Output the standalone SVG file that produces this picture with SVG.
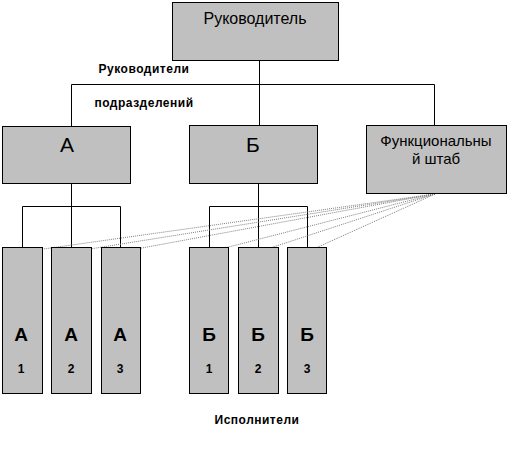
<svg xmlns="http://www.w3.org/2000/svg" width="510" height="451" viewBox="0 0 510 451">
<style>
.box{fill:#c0c0c0;stroke:#000;stroke-width:1}
.ln{fill:none;stroke:#000;stroke-width:1}
.dot{fill:none;stroke:#808080;stroke-width:1;stroke-dasharray:1,1}
.t{font-family:"Liberation Sans",Arial,sans-serif;fill:#000;text-anchor:middle}
.lbl{font-family:"Liberation Sans",Arial,sans-serif;font-weight:bold;font-size:12px;fill:#000;text-anchor:middle;letter-spacing:0.5px}
.big{font-size:21px}
.sub{font-size:19px;font-weight:bold}
.num{font-size:12px;font-weight:bold}
</style>
<rect width="510" height="451" fill="#fff"/>
<g id="connectors">
<path class="ln" d="M259.5,60 V125 M71.5,84.5 H434.5 M71.5,84.5 V126 M434.5,84.5 V125"/>
<path class="ln" d="M71.5,183 V252 M22.5,206.5 H120.5 M22.5,206.5 V252 M120.5,206.5 V252"/>
<path class="ln" d="M258.5,183 V252 M209.5,206.5 H307.5 M209.5,206.5 V252 M307.5,206.5 V252"/>
<path class="dot" d="M435,194 L22,252 M435,194 L71,252 M435,194 L120,252 M435,194 L209,252 M435,194 L258,252 M435,194 L307,252"/>
</g>
<g id="head"><rect class="box" x="172.5" y="2.5" width="166" height="58"/><text class="t" x="255" y="24" font-size="16">Руководитель</text></g>
<g id="A"><rect class="box" x="2.5" y="126.5" width="128" height="57"/><text class="t big" x="67" y="152">А</text></g>
<g id="B"><rect class="box" x="189.5" y="125.5" width="128" height="58"/><text class="t big" x="253" y="152">Б</text></g>
<g id="F"><rect class="box" x="366.5" y="125.5" width="140" height="68"/><text class="t" x="436" y="146" font-size="15">Функциональны</text><text class="t" x="436" y="164" font-size="15">й штаб</text></g>
<g id="A1"><rect class="box" x="2.5" y="247.5" width="40" height="146"/><text class="t sub" x="21" y="341">А</text><text class="t num" x="21" y="373">1</text></g>
<g id="A2"><rect class="box" x="51.5" y="247.5" width="40" height="146"/><text class="t sub" x="71" y="341">А</text><text class="t num" x="71" y="373">2</text></g>
<g id="A3"><rect class="box" x="101.5" y="247.5" width="39" height="146"/><text class="t sub" x="120" y="341">А</text><text class="t num" x="120" y="373">3</text></g>
<g id="B1"><rect class="box" x="189.5" y="247.5" width="39" height="146"/><text class="t sub" x="209" y="341">Б</text><text class="t num" x="209" y="373">1</text></g>
<g id="B2"><rect class="box" x="238.5" y="247.5" width="40" height="146"/><text class="t sub" x="258" y="341">Б</text><text class="t num" x="258" y="373">2</text></g>
<g id="B3"><rect class="box" x="287.5" y="247.5" width="39" height="146"/><text class="t sub" x="307" y="341">Б</text><text class="t num" x="307" y="373">3</text></g>
<g id="labels">
<text class="lbl" x="144" y="73">Руководители</text>
<text class="lbl" x="144" y="107">подразделений</text>
<text class="lbl" x="257" y="424">Исполнители</text>
</g>
</svg>
